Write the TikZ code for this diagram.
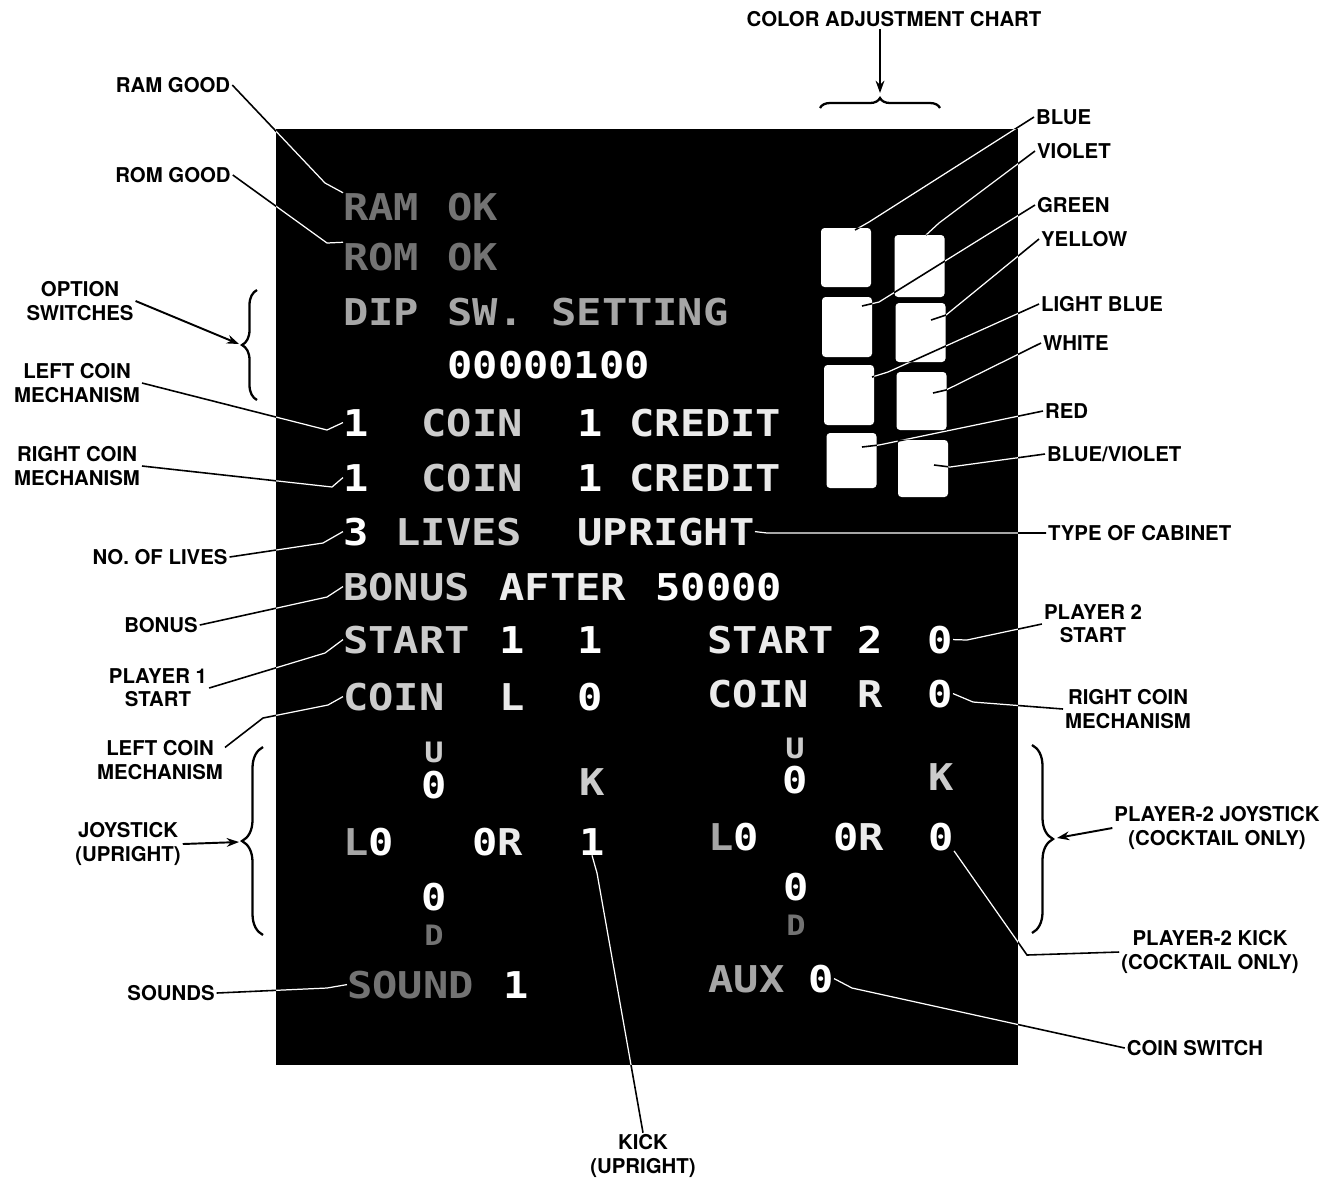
\documentclass[tikz,border=0pt]{standalone}
\usepackage{fontspec}
\setmainfont{TeX Gyre Heros}
\newfontfamily\scrfont[FakeStretch=1.14]{DejaVu Sans Mono}
\usetikzlibrary{arrows.meta, positioning, calc, decorations.pathreplacing}
\definecolor{toneA}{gray}{0.45}
\definecolor{toneB}{gray}{0.65}
\definecolor{toneC}{gray}{0.8}
\definecolor{toneD}{gray}{0.92}

\tikzset{
  lbl/.style={font=\bfseries\fontsize{11.6}{13.2}\selectfont, align=center, inner sep=1pt},
  scr/.style={font=\fontsize{21}{22}\scrfont\bfseries, text=white, inner sep=0pt, anchor=base west},
  scrsm/.style={scr, font=\fontsize{16}{17}\scrfont\bfseries},
  swatch/.style={fill=white, rounded corners=2pt, minimum width=1cm, inner sep=0pt},
  leader/.style={draw=black, line width=0.9pt},
  callout/.style={black, line width=1.1pt, -{Stealth[length=7pt, width=5pt]}},
  bigbrace/.style={decorate, decoration={brace, amplitude=#1}, line width=1.3pt},
}

% every leader line, drawn twice (black on paper, white on the screen)
\newcommand\leaderpaths{%
  \draw[leader] (ramgood.east) -- (325,183) -- (ram.north west);
  \draw[leader] (romgood.east) -- (327,243) -- (rom.north west);
  \draw[leader] (lcoinA.east) -- (327,430) -- (oneA.west);
  \draw[leader] (rcoinA.east) -- (332,487) -- (oneB.west);
  \draw[leader] (lives.east) -- (323,543) -- (three.west);
  \draw[leader] (bonus.east) -- (327,597) -- (bonusw.west);
  \draw[leader] (ponestart.east) -- (325,653) -- (startA.west);
  \draw[leader] ([yshift=-5pt]lcoinB.north east) -- (263,718) -- (328,705) -- (coinL.west);
  \draw[leader] (sounds.east) -- (327,988) -- (sound.west);
  \draw[leader] (kickup.north) -- (597,873) -- (kickone.south);
  \draw[leader] (cabinet.west) -- (767,533) -- (upright.east);
  \draw[leader] (ptwostart.west) -- (967,640) -- (startBval.east);
  \draw[leader] (rcoinB.west) -- (973,702) -- (coinRval.east);
  \draw[leader] (ptwokick.west) -- (1027,955) -- (kicktwo.south east);
  \draw[leader] (coinsw.west) -- (852,988) -- (auxval.east);
  \foreach \lb/\bx/\by/\sq/\dx/\dy in {cblue/869/222/sqA/9/-27.5, cviolet/939/223/sqE/6.5/-31,
      cgreen/879/302/sqB/15/-21, cyellow/946/315/sqF/10.5/-12.5, clblue/888/372/sqC/23/-18,
      cwhite/946/390/sqG/11.5/-8, cred/879/445/sqD/10.5/-13.5, cbv/950/467/sqH/11/-3.5}
    \draw[leader] (\lb.west) -- (\bx,\by) -- ($(\sq)+(\dx,\dy)$);
}

\begin{document}
\begin{tikzpicture}[x=0.02cm, y=-0.02cm]
  \useasboundingbox (0,0) rectangle (1337,1181);

  % the monitor screen
  \coordinate (scrNW) at (276,129);
  \coordinate (scrSE) at (1018,1065);
  \fill[black] (scrNW) rectangle (scrSE);

  % self-test text on the screen
  \node[scr, text=toneA] (ram) at (343,220) {RAM};
  \node[scr, text=toneA] (ramok) at (447,220) {OK};
  \node[scr, text=toneA] (rom) at (343,270) {ROM};
  \node[scr, text=toneA] (romok) at (447,270) {OK};
  \node[scr, text=toneB] (dip) at (343,325) {DIP};
  \node[scr, text=toneB] (dipsw) at (447,325) {SW.};
  \node[scr, text=toneB] (setting) at (551,325) {SETTING};
  \node[scr] (dipval) at (447,378) {00000100};

  \node[scr] (oneA) at (343,436) {1};
  \node[scr, text=toneC] (coinA) at (421,436) {COIN};
  \node[scr] (credA) at (577,436) {1};
  \node[scr, text=toneD] (creditA) at (629,436) {CREDIT};
  \node[scr] (oneB) at (343,491) {1};
  \node[scr, text=toneC] (coinB) at (421,491) {COIN};
  \node[scr] (credB) at (577,491) {1};
  \node[scr, text=toneD] (creditB) at (629,491) {CREDIT};

  \node[scr] (three) at (343,545) {3};
  \node[scr, text=toneC] (livesw) at (395,545) {LIVES};
  \node[scr, text=toneD] (upright) at (577,545) {UPRIGHT};
  \node[scr, text=toneC] (bonusw) at (343,600) {BONUS};
  \node[scr, text=toneD] (after) at (499,600) {AFTER};
  \node[scr] (bonusval) at (655,600) {50000};

  \node[scr, text=toneC] (startA) at (343,653) {START};
  \node[scr] (startAnum) at (499,653) {1};
  \node[scr] (startAval) at (577,653) {1};
  \node[scr, text=toneD] (startB) at (707,653) {START};
  \node[scr] (startBnum) at (857,653) {2};
  \node[scr] (startBval) at (927,653) {0};
  \node[scr, text=toneC] (coinL) at (343,710) {COIN};
  \node[scr, text=toneD] (coinLside) at (499,710) {L};
  \node[scr] (coinLval) at (577,710) {0};
  \node[scr, text=toneD] (coinR) at (707,707) {COIN};
  \node[scr, text=toneD] (coinRside) at (857,707) {R};
  \node[scr] (coinRval) at (927,707) {0};

  % joystick crosses
  \node[scrsm, text=toneC] (upA) at (424,762) {U};
  \node[scr] (upAval) at (421,798) {0};
  \node[scr, text=toneC] (kA) at (579,795) {K};
  \node[scr] (leftA) at (343,855) {\textcolor{toneB}{L}0};
  \node[scr] (rightA) at (472,855) {0\textcolor{toneD}{R}};
  \node[scr] (kickone) at (579,855) {1};
  \node[scr] (downAval) at (421,910) {0};
  \node[scrsm, text=toneA] (downA) at (424,945) {D};
  \node[scrsm, text=toneC] (upB) at (785,758) {U};
  \node[scr] (upBval) at (782,793) {0};
  \node[scr, text=toneC] (kB) at (928,790) {K};
  \node[scr] (leftB) at (708,850) {\textcolor{toneB}{L}0};
  \node[scr] (rightB) at (833,850) {0\textcolor{toneD}{R}};
  \node[scr] (kicktwo) at (928,850) {0};
  \node[scr] (downBval) at (783,900) {0};
  \node[scrsm, text=toneA] (downB) at (786,935) {D};

  \node[scr, text=toneA] (sound) at (347,998) {SOUND};
  \node[scr] (soundval) at (503,998) {1};
  \node[scr, text=toneB] (aux) at (708,992) {AUX};
  \node[scr] (auxval) at (808,992) {0};

  % colour adjustment chart
  \foreach \nm/\cx/\cy/\h in {sqA/846/257.5/1.18, sqB/847/327/1.2, sqC/849/395/1.2, sqD/851.5/460.5/1.1,
      sqE/919.5/266/1.24, sqF/920.5/332.5/1.18, sqG/921.5/401/1.16, sqH/923/468.5/1.14}
    \node[swatch, minimum height=\h cm] (\nm) at (\cx,\cy) {};

  % labels
  \node[lbl] (colchart) at (894,19) {COLOR ADJUSTMENT CHART};
  \node[lbl] (ramgood) at (173,85) {RAM GOOD};
  \node[lbl] (romgood) at (173,175) {ROM GOOD};
  \node[lbl] (optsw) at (80,301) {OPTION\\SWITCHES};
  \node[lbl] (lcoinA) at (77,383) {LEFT COIN\\MECHANISM};
  \node[lbl] (rcoinA) at (77,466) {RIGHT COIN\\MECHANISM};
  \node[lbl] (lives) at (160,557) {NO. OF LIVES};
  \node[lbl] (bonus) at (161,625) {BONUS};
  \node[lbl] (ponestart) at (158,688) {PLAYER 1\\START};
  \node[lbl] (lcoinB) at (160,760) {LEFT COIN\\MECHANISM};
  \node[lbl] (joyup) at (128,844) {JOYSTICK\\(UPRIGHT)};
  \node[lbl] (sounds) at (171,993) {SOUNDS};
  \node[lbl] (kickup) at (643,1156) {KICK\\(UPRIGHT)};
  \node[lbl, anchor=west] (cabinet) at (1046,533) {TYPE OF CABINET};
  \node[lbl] (ptwostart) at (1093,624) {PLAYER 2\\START};
  \node[lbl] (rcoinB) at (1128,709) {RIGHT COIN\\MECHANISM};
  \node[lbl] (ptwojoy) at (1217,828) {PLAYER-2 JOYSTICK\\(COCKTAIL ONLY)};
  \node[lbl] (ptwokick) at (1210,952) {PLAYER-2 KICK\\(COCKTAIL ONLY)};
  \node[lbl] (coinsw) at (1195,1048) {COIN SWITCH};
  \foreach \nm/\txt/\x/\y in {cblue/BLUE/1034/117, cviolet/VIOLET/1035/151, cgreen/GREEN/1035/205,
      cyellow/YELLOW/1039/239, clblue/LIGHT BLUE/1039/304, cwhite/WHITE/1041/343,
      cred/RED/1043/411, cbv/{BLUE/VIOLET}/1045/454}
    \node[lbl, anchor=west] (\nm) at (\x,\y) {\txt};

  % leaders: white where they cross the screen, black elsewhere
  \begin{scope}
    \clip (scrNW) rectangle (scrSE);
    \tikzset{leader/.append style={draw=white, line width=0.7pt}}
    \leaderpaths
  \end{scope}
  \begin{scope}
    \clip (0,0) rectangle (1337,129) (0,1065) rectangle (1337,1181)
      (0,129) rectangle (276,1065) (1018,129) rectangle (1337,1065)
      foreach \s in {A,...,H} {(sq\s.south west) rectangle (sq\s.north east)};
    \leaderpaths
  \end{scope}

  % braces and arrows
  \coordinate (chtip) at (880,93);
  \draw[bigbrace=0.2cm] (820,108) -- (940,108);
  \draw[callout] (colchart.south -| chtip) -- (chtip);

  \coordinate (optbr) at (239,344);
  \draw[bigbrace=0.3cm] (257,400) -- (257,290);
  \draw[callout] (optsw.east) -- (optbr);

  \coordinate (joybr) at (239,842);
  \draw[bigbrace=0.42cm] (263,935) -- (263,747);
  \draw[callout] (joyup.east) -- (joybr);

  \coordinate (ptwobr) at (1057,838);
  \draw[bigbrace=0.42cm] (1032,745) -- (1032,933);
  \draw[callout] (ptwojoy.west) -- (ptwobr);
\end{tikzpicture}
\end{document}
